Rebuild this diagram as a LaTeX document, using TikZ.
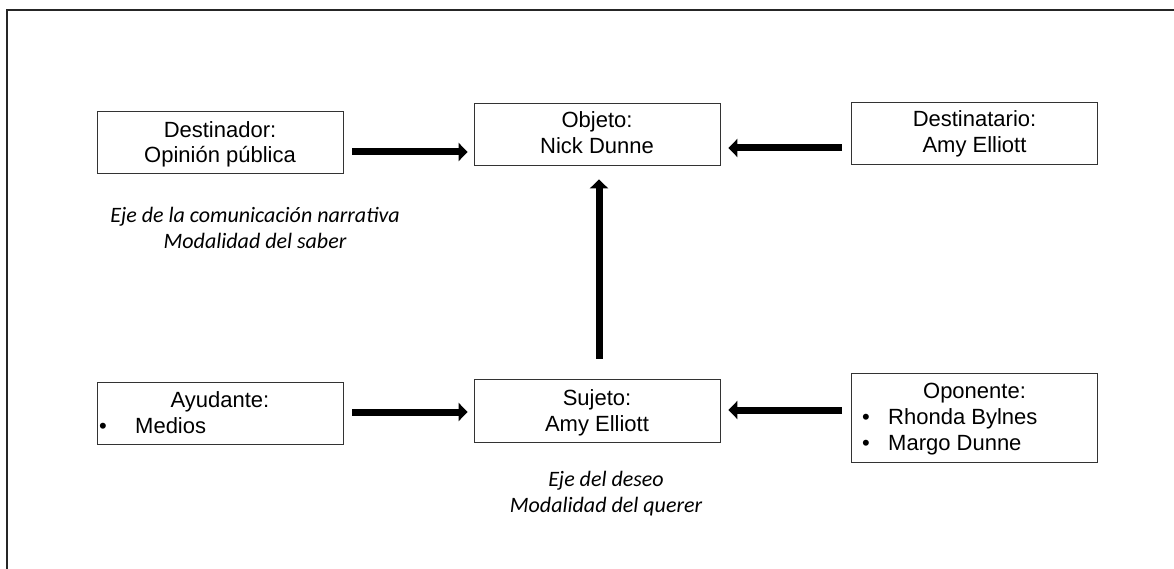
\documentclass[tikz,border=0pt]{standalone}
\usepackage{fontspec}
\setmainfont{Liberation Sans}
\newfontfamily\calfont{Carlito}
\usetikzlibrary{arrows.meta}
\begin{document}
\begin{tikzpicture}[x=1pt,y=-1pt,
 box/.style={draw=black!80,line width=0.9pt,minimum width=246pt,minimum height=62pt,inner sep=0pt,align=center,font=\fontsize{22}{26}\selectfont},
 txt/.style={inner sep=0pt,font=\fontsize{22}{26}\selectfont},
 note/.style={inner sep=0pt,align=center,font=\calfont\itshape\fontsize{22}{26}\selectfont},
 arr/.style={line width=7pt,-{Triangle[length=9pt,width=18pt]}},
 frame/.style={draw=black!85,line width=2pt}]
\useasboundingbox (0,0) rectangle (1174,569);
\coordinate (fb) at (7,570);
\coordinate (fc) at (7,10);
\coordinate (fr) at (1175,10);
\draw[frame] (fb) -- (fc) -- (fr);

\node[box] (dest) at (220,142) {};
\node[box] (obj) at (597,134) {};
\node[box] (desti) at (974.5,133) {};
\node[box] (ayu) at (220,413) {};
\node[box,minimum height=63pt] (suj) at (597,410.5) {};
\node[box,minimum height=89pt] (opo) at (974.5,417.5) {};

\node[txt,anchor=base] (destt) at (220,137.5) {Destinador:};
\node[txt,anchor=base] (destn) at (220,163) {Opinión pública};
\node[txt,anchor=base] (objt) at (597,128) {Objeto:};
\node[txt,anchor=base] (objn) at (597,154) {Nick Dunne};
\node[txt,anchor=base] (destit) at (974.5,127) {Destinatario:};
\node[txt,anchor=base] (destin) at (974.5,153) {Amy Elliott};
\node[txt,anchor=base] (sujt) at (597,405) {Sujeto:};
\node[txt,anchor=base] (sujn) at (597,431.5) {Amy Elliott};

\node[txt,anchor=base] (ayut) at (220,407) {Ayudante:};
\node[txt,anchor=base] (ayub) at (103,433) {•};
\node[txt,anchor=base west] (ayum) at (135,433) {Medios};

\node[txt,anchor=base] (opot) at (974.5,398) {Oponente:};
\node[txt,anchor=base] (opob1) at (866,424) {•};
\node[txt,anchor=base west] (opor) at (888,424) {Rhonda Bylnes};
\node[txt,anchor=base] (opob2) at (866,450) {•};
\node[txt,anchor=base west] (opom) at (888,450) {Margo Dunne};

\node[note] (n1) at (255,228) {Eje de la comunicación narrativa\\Modalidad del saber};
\node[note] (n2) at (606,494) {Eje del deseo\\Modalidad del querer};

\draw[arr] ([xshift=9pt,yshift=-10pt]dest.east) -- ([xshift=-6pt,yshift=-18pt]obj.west);
\draw[arr] ([xshift=-9pt,yshift=-15pt]desti.west) -- ([xshift=8pt,yshift=-14pt]obj.east);
\draw[arr] ([xshift=2pt,yshift=20pt]suj.north) -- ([xshift=2pt,yshift=-14pt]obj.south);
\draw[arr] ([xshift=9pt,yshift=1pt]ayu.east) -- ([xshift=-6pt,yshift=-1.5pt]suj.west);
\draw[arr] ([xshift=-9pt,yshift=7.5pt]opo.west) -- ([xshift=8pt,yshift=0.5pt]suj.east);
\end{tikzpicture}
\end{document}
